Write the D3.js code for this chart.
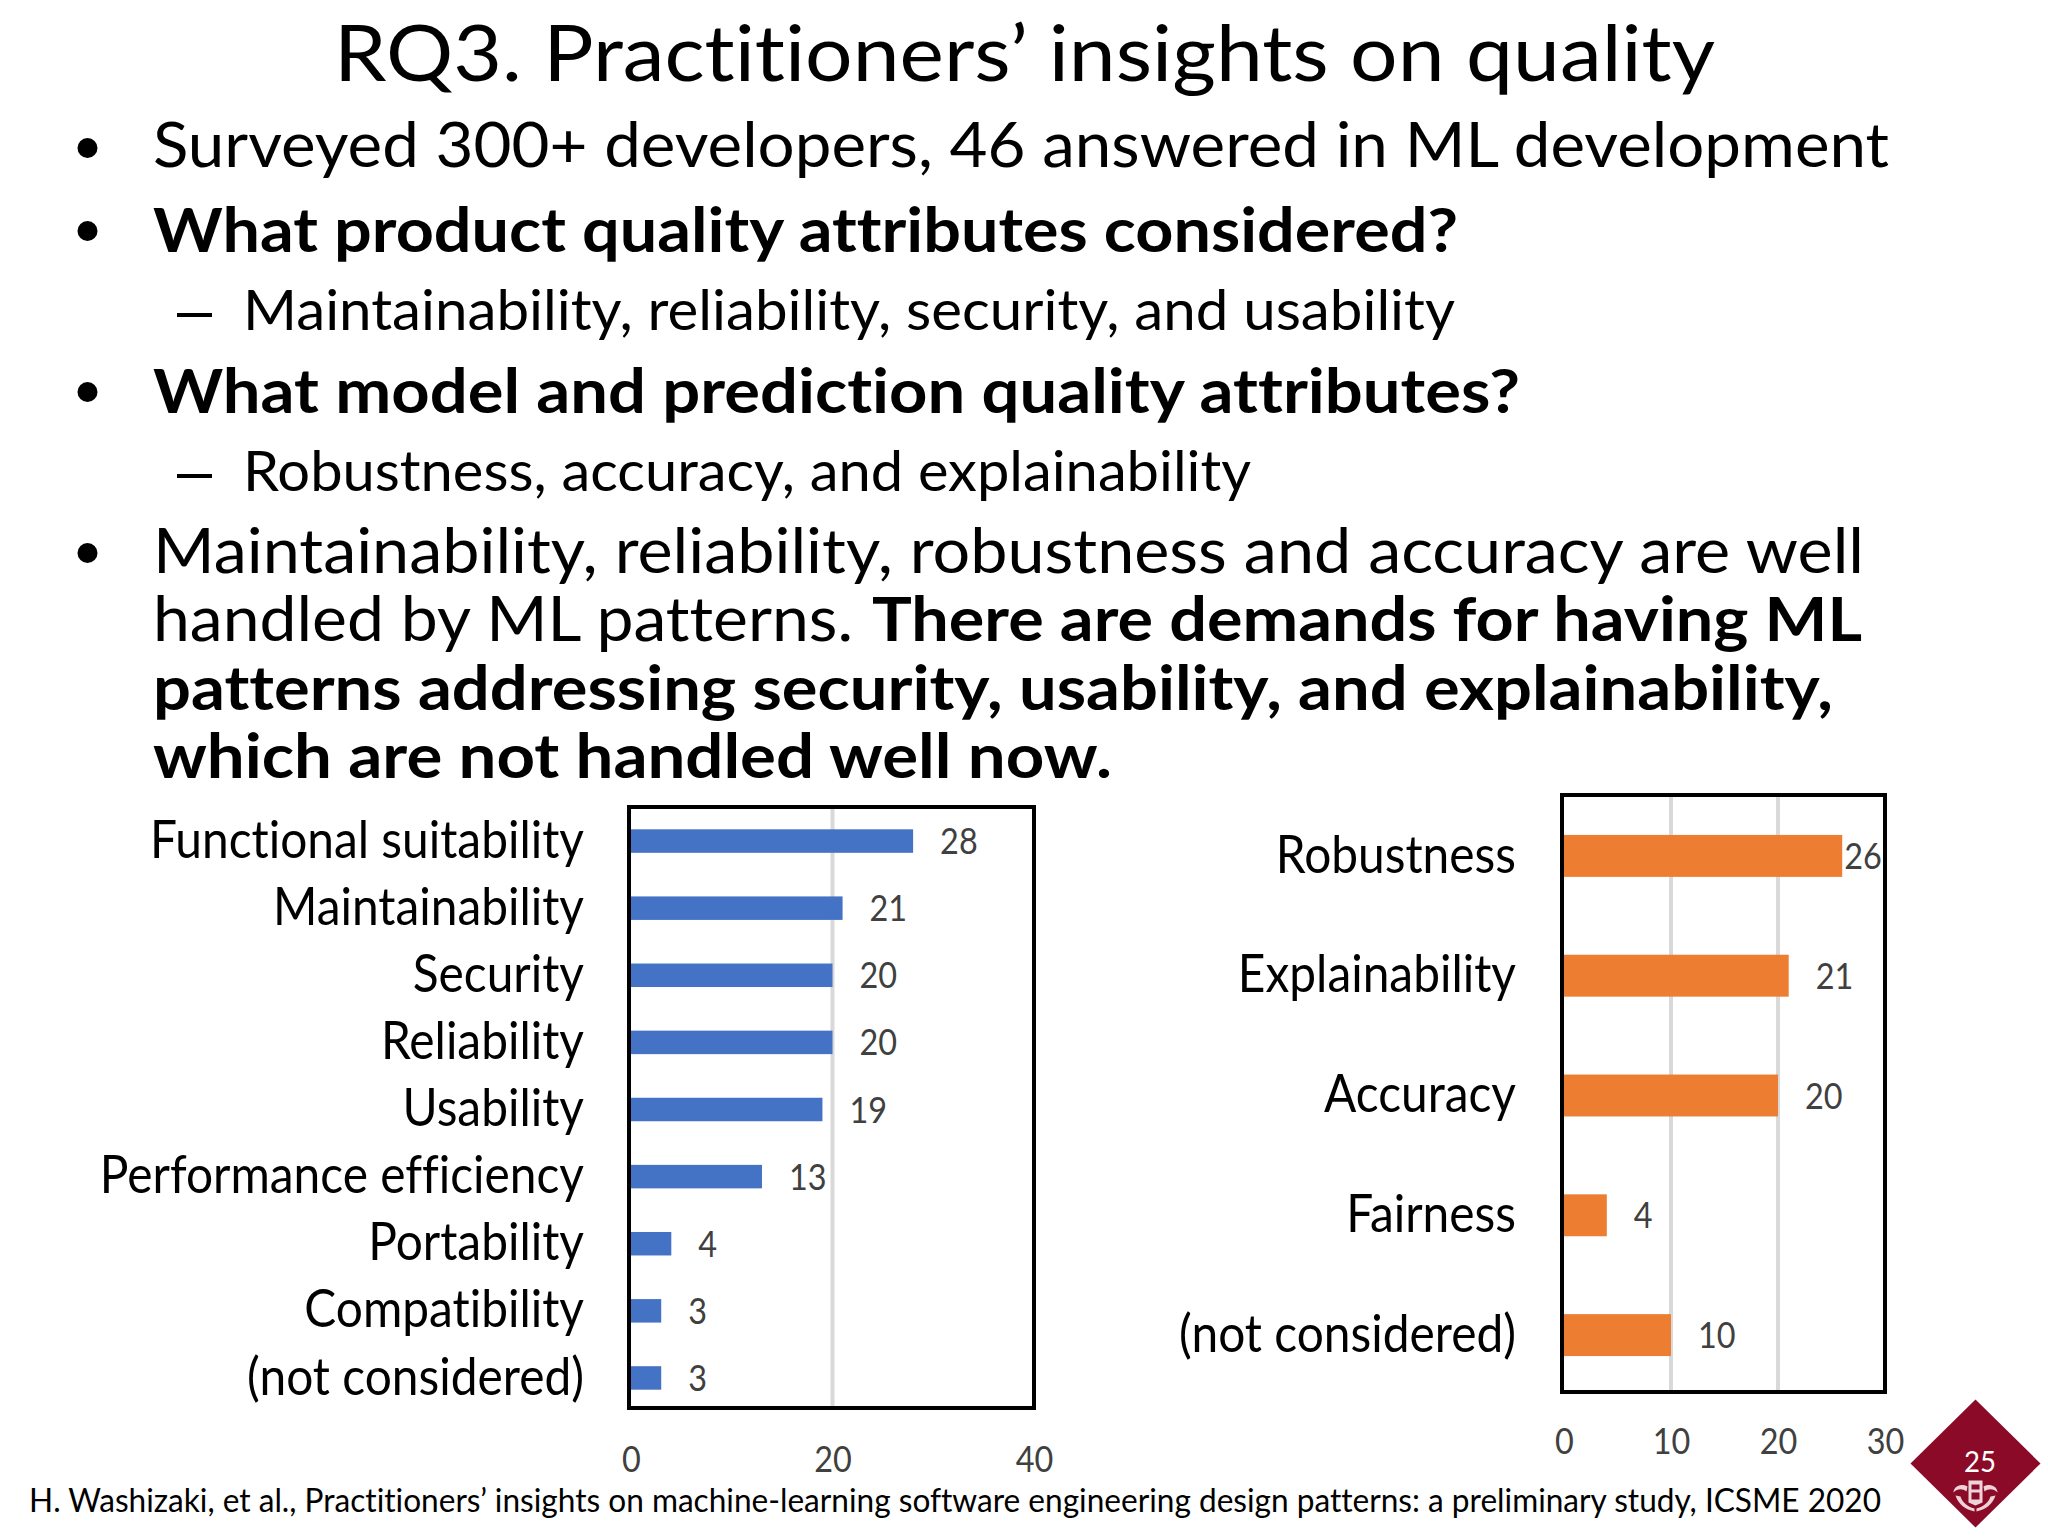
<!DOCTYPE html>
<html>
<head>
<meta charset="utf-8">
<script src="https://cdn.jsdelivr.net/npm/d3@7"></script>
<style>
  html, body { margin: 0; padding: 0; background: #fff; }
  svg { display: block; }
  text { font-family: Lato, "Noto Sans", sans-serif; font-variant-ligatures: none; }
</style>
</head>
<body>
<div id="slide"></div>
<script>
const productCategories = ["Functional suitability", "Maintainability", "Security", "Reliability", "Usability", "Performance efficiency", "Portability", "Compatibility", "(not considered)"];
const productValues = [28, 21, 20, 20, 19, 13, 4, 3, 3];
const productTicks = [0, 20, 40];

const modelCategories = ["Robustness", "Explainability", "Accuracy", "Fairness", "(not considered)"];
const modelValues = [26, 21, 20, 4, 10];
const modelTicks = [0, 10, 20, 30];

const titleText = "RQ3. Practitioners\u2019 insights on quality";
const bodyTexts = [
  "Surveyed 300+ developers, 46 answered in ML development",
  "What product quality attributes considered?",
  "Maintainability, reliability, security, and usability",
  "What model and prediction quality attributes?",
  "Robustness, accuracy, and explainability",
  "Maintainability, reliability, robustness and accuracy are well",
  "handled by ML patterns.",
  "There are demands for having ML",
  "patterns addressing security, usability, and explainability,",
  "which are not handled well now."
];
const footerText = "H. Washizaki, et al., Practitioners\u2019 insights on machine-learning software engineering design patterns: a preliminary study, ICSME 2020";
const pageNumber = "25";

const width = 2048;
const height = 1536;

const svg = d3.select("#slide").append("svg")
  .attr("width", width)
  .attr("height", height)
  .attr("viewBox", [0, 0, width, height]);

// squeeze a text to the width it has in the slide (Calibri is narrower than Lato)
function line(str, x, y, w, size, bold) {
  return svg.append("text")
    .attr("x", x)
    .attr("y", y)
    .attr("font-size", size)
    .attr("font-weight", bold ? 700 : 400)
    .attr("fill", "#000")
    .attr("textLength", w)
    .attr("lengthAdjust", "spacingAndGlyphs")
    .text(str);
}

line(titleText, 334, 81, 1381, 78, false);

// x, baseline, width, size, bold for each body text
const bodyLayout = [
  [153, 167, 1736, 62, false],
  [153, 252, 1305, 62, true],
  [243, 330, 1212, 57, false],
  [153, 413, 1367, 62, true],
  [243, 491, 1008, 57, false],
  [153, 573, 1711, 62, false],
  [153, 641, 700, 62, false],
  [872, 641, 990, 62, true],
  [153, 710, 1680, 62, true],
  [153, 778, 959, 62, true]
];
bodyTexts.forEach((d, i) => line(d, ...bodyLayout[i]));

// bullets and dashes
[148, 231, 392, 553].forEach((cy) => {
  svg.append("circle").attr("cx", 87.5).attr("cy", cy).attr("r", 10).attr("fill", "#000");
});
[313, 474].forEach((y) => {
  svg.append("rect").attr("x", 177).attr("y", y).attr("width", 35).attr("height", 4).attr("fill", "#000");
});

line(footerText, 29, 1512, 1852, 33, false);

function squeeze(sel, k) {
  sel.each(function () {
    d3.select(this)
      .attr("textLength", this.getComputedTextLength() * k)
      .attr("lengthAdjust", "spacingAndGlyphs");
  });
}

function barChart(opt) {
  const x = d3.scaleLinear().domain(opt.domain).range(opt.xRange);
  const y = d3.scaleBand().domain(opt.categories).range(opt.bandRange).paddingInner(0.65).paddingOuter(0.325);
  const g = svg.append("g");
  const top = opt.frame[0];
  const bottom = opt.frame[1];

  // vertical grid, both end ticks sit under the frame
  g.selectAll(".grid")
    .data(opt.ticks.slice(1, -1))
    .join("line")
    .attr("class", "grid")
    .attr("x1", (d) => x(d))
    .attr("x2", (d) => x(d))
    .attr("y1", top)
    .attr("y2", bottom)
    .attr("stroke", "#d9d9d9")
    .attr("stroke-width", 4);

  g.selectAll(".bar")
    .data(opt.values)
    .join("rect")
    .attr("class", "bar")
    .attr("x", x(0))
    .attr("y", (d, i) => y(opt.categories[i]))
    .attr("width", (d) => x(d) - x(0))
    .attr("height", y.bandwidth())
    .attr("fill", opt.color);

  g.append("rect")
    .attr("x", x(0) - 2)
    .attr("y", top)
    .attr("width", x(opt.domain[1]) - x(0) + 2)
    .attr("height", bottom - top)
    .attr("fill", "none")
    .attr("stroke", "#000")
    .attr("stroke-width", 4);

  g.selectAll(".value")
    .data(opt.values)
    .join("text")
    .attr("class", "value")
    .attr("x", (d) => x(d) + (d === opt.tightValue ? 2 : 27))
    .attr("y", (d, i) => y(opt.categories[i]) + y.bandwidth() / 2 + 13)
    .attr("font-size", 36)
    .attr("fill", "#404040")
    .text((d) => d)
    .call(squeeze, 0.9);

  const yAxis = g.append("g")
    .attr("transform", `translate(${opt.labelX},0)`)
    .call(d3.axisLeft(y).tickSize(0).tickPadding(0));
  yAxis.select(".domain").remove();
  yAxis.selectAll("text")
    .attr("font-size", 52)
    .attr("fill", "#000")
    .style("font-family", "Lato")
    .call(squeeze, 0.92);

  const xAxis = g.append("g")
    .attr("transform", `translate(0,${opt.tickY})`)
    .call(d3.axisBottom(x).tickValues(opt.ticks).tickSize(0).tickPadding(0));
  xAxis.select(".domain").remove();
  xAxis.selectAll("text")
    .attr("font-size", 36)
    .attr("fill", "#404040")
    .attr("dy", 0)
    .attr("y", 0)
    .style("font-family", "Lato")
    .call(squeeze, 0.9);
}

barChart({
  categories: productCategories,
  values: productValues,
  ticks: productTicks,
  domain: [0, 40],
  xRange: [631, 1034],
  frame: [807, 1408],
  bandRange: [807.5, 1411.5],
  color: "#4472c4",
  labelX: 584,
  tickY: 1472
});

barChart({
  categories: modelCategories,
  values: modelValues,
  ticks: modelTicks,
  domain: [0, 30],
  xRange: [1564, 1885],
  frame: [795, 1392],
  bandRange: [796, 1395],
  color: "#ed7d31",
  labelX: 1516,
  tickY: 1454,
  tightValue: 26
});

// page badge with the university crest
const badge = svg.append("g").attr("transform", "translate(1975.5,1463.5)");
badge.append("path")
  .attr("d", "M0,-64 L65,0 L0,64 L-65,0 Z")
  .attr("fill", "#8b0a28");
badge.append("text")
  .attr("x", 4.5)
  .attr("y", 8)
  .attr("text-anchor", "middle")
  .attr("font-size", 29)
  .attr("fill", "#fff")
  .attr("textLength", 32)
  .attr("lengthAdjust", "spacingAndGlyphs")
  .text(pageNumber);

const crest = badge.append("g").attr("transform", "translate(0,32)").attr("fill", "#ecd3d7");
crest.append("path")
  .attr("d", "M-7,-15 L7,-15 L7,7 L0,10 L-7,7 Z M-4,-11 L-4,-6 L4,-6 L4,-11 Z M-4,-3 L-4,4 L4,4 L4,-3 Z")
  .attr("fill-rule", "evenodd");
crest.append("path").attr("d", "M-8,-9 C-16,-13 -22,-8 -22,-3 C-18,-7 -13,-7 -9,-4 Z");
crest.append("path").attr("d", "M8,-9 C16,-13 22,-8 22,-3 C18,-7 13,-7 9,-4 Z");
crest.append("path").attr("d", "M-20,0 C-17,9 -10,14 -1,16 L-1,13 C-8,11 -13,7 -15,1 Z");
crest.append("path").attr("d", "M20,0 C17,9 10,14 1,16 L1,13 C8,11 13,7 15,1 Z");
</script>
</body>
</html>
